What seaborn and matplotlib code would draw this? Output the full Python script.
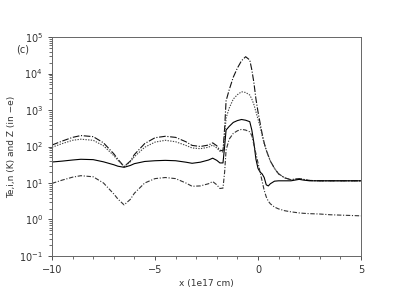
import numpy as np
import pandas as pd
import matplotlib
matplotlib.use("Agg")
import matplotlib.pyplot as plt
import seaborn as sns
from matplotlib.ticker import MultipleLocator, LogLocator

# x position (1e17 cm)
x = [-10, -9.5, -9, -8.6, -8, -7.5, -7, -6.8, -6.5, -6.2, -6, -5.5, -5, -4.5, -4,
     -3.5, -3.2, -2.8, -2.4, -2.2, -2.0, -1.85, -1.7, -1.62, -1.55, -1.4, -1.2,
     -1.0, -0.8, -0.6, -0.4, -0.3, -0.2, -0.1, 0, 0.1, 0.2, 0.3, 0.4, 0.5, 0.6,
     0.8, 1.0, 1.3, 1.6, 2.0, 2.2, 2.5, 3, 3.5, 4, 4.5, 5]

# log10 of each quantity
log_te = [2.04, 2.15, 2.25, 2.30, 2.27, 2.10, 1.80, 1.65, 1.45, 1.60, 1.78, 2.08, 2.24,
          2.28, 2.25, 2.13, 2.03, 2.00, 2.04, 2.10, 2.02, 1.90, 1.88, 2.50, 3.25, 3.55,
          3.90, 4.15, 4.35, 4.46, 4.37, 4.10, 3.75, 3.30, 2.95, 2.65, 2.35, 2.10, 1.90,
          1.75, 1.60, 1.40, 1.25, 1.14, 1.09, 1.12, 1.10, 1.07, 1.06, 1.06, 1.06, 1.06, 1.06]
log_ti = [1.98, 2.08, 2.17, 2.20, 2.17, 2.02, 1.75, 1.62, 1.45, 1.58, 1.72, 1.98, 2.12,
          2.17, 2.13, 2.03, 1.96, 1.94, 1.98, 2.04, 1.96, 1.87, 1.85, 2.30, 2.78, 3.05,
          3.30, 3.42, 3.50, 3.48, 3.41, 3.30, 3.15, 2.95, 2.75, 2.55, 2.30, 2.08, 1.90,
          1.75, 1.60, 1.40, 1.25, 1.14, 1.09, 1.12, 1.10, 1.07, 1.06, 1.06, 1.06, 1.06, 1.06]
log_z = [1.575, 1.60, 1.63, 1.65, 1.64, 1.58, 1.50, 1.46, 1.43, 1.48, 1.53, 1.59, 1.61,
         1.62, 1.61, 1.57, 1.54, 1.57, 1.63, 1.68, 1.62, 1.55, 1.55, 2.00, 2.45, 2.55,
         2.66, 2.71, 2.74, 2.72, 2.68, 2.45, 2.10, 1.65, 1.40, 1.30, 1.25, 1.15, 0.95,
         0.92, 0.98, 1.05, 1.06, 1.06, 1.06, 1.10, 1.08, 1.06, 1.06, 1.06, 1.06, 1.06, 1.06]
log_n = [0.99, 1.08, 1.16, 1.20, 1.17, 1.00, 0.70, 0.56, 0.40, 0.55, 0.72, 1.00, 1.12,
         1.15, 1.12, 1.00, 0.91, 0.92, 0.98, 1.04, 0.95, 0.85, 0.86, 1.30, 1.90, 2.20,
         2.36, 2.43, 2.47, 2.45, 2.40, 2.30, 2.05, 1.80, 1.55, 1.30, 1.05, 0.80, 0.62,
         0.50, 0.43, 0.34, 0.29, 0.24, 0.21, 0.18, 0.17, 0.16, 0.15, 0.13, 0.12, 0.11, 0.10]

series = {"Te": log_te, "Ti": log_ti, "Z": log_z, "n": log_n}
frames = [pd.DataFrame({"x": x, "value": 10 ** np.array(v), "series": k})
          for k, v in series.items()]
df = pd.concat(frames, ignore_index=True)

sns.set_style("ticks")
plt.rcParams["font.family"] = ["DejaVu Sans"]

fig = plt.figure(figsize=(4.14, 2.93), dpi=100)
ax = fig.add_axes([0.1256, 0.1263, 0.7464, 0.7474])

dashes = {"Te": (6, 1.5, 1, 1.5), "Ti": (1.2, 1.2), "Z": "", "n": (4, 1.5, 1, 1.5)}
colors = {"Te": "#111111", "Ti": "#444444", "Z": "#000000", "n": "#333333"}
sns.lineplot(data=df, x="x", y="value", hue="series", style="series",
             dashes=dashes, palette=colors, linewidth=0.8, legend=False, ax=ax)

ax.set_yscale("log")
ax.set_xlim(-10, 5)
ax.set_ylim(1e-1, 1e5)
ax.xaxis.set_major_locator(MultipleLocator(5))
ax.xaxis.set_minor_locator(MultipleLocator(1))
ax.yaxis.set_major_locator(LogLocator(base=10, numticks=10))
ax.yaxis.set_minor_locator(LogLocator(base=10, subs=np.arange(2, 10), numticks=20))

tc = "#333333"
ax.tick_params(which="major", length=3, width=0.6, color=tc, labelsize=7, labelcolor=tc)
ax.tick_params(which="minor", length=2, width=0.5, color=tc)
for s in ax.spines.values():
    s.set_color("#666666")
    s.set_linewidth(0.7)

ax.set_xlabel("x (1e17 cm)", fontsize=6.5, color=tc, labelpad=3)
ax.set_ylabel("Te,i,n (K) and Z (in \u2212e)", fontsize=6.5, color=tc, labelpad=2)
fig.text(0.055, 0.83, "(c)", fontsize=7, color=tc, ha="center", va="center")

fig.savefig("out.png", dpi=100)
